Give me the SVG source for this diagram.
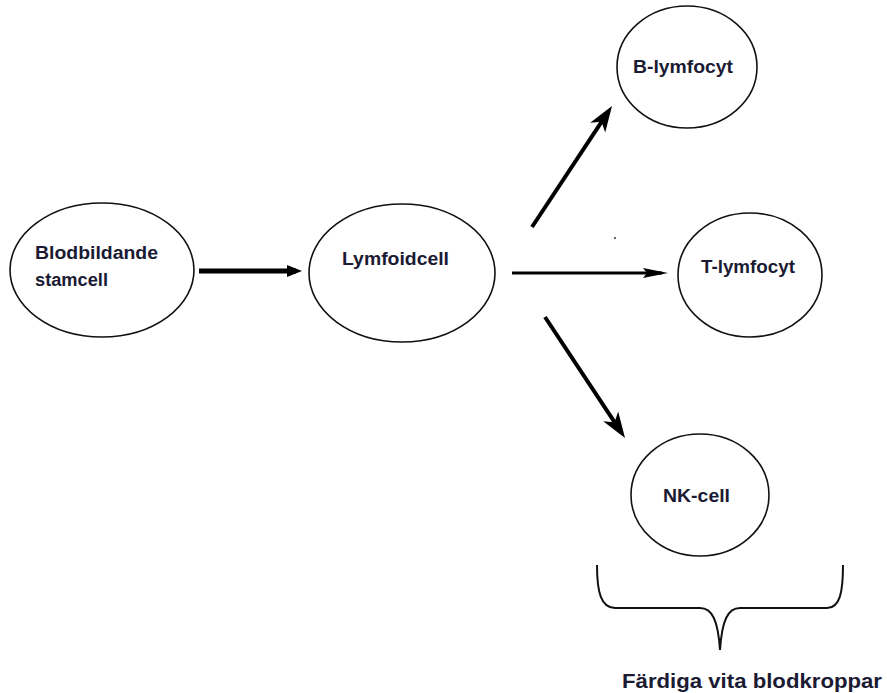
<svg xmlns="http://www.w3.org/2000/svg" width="887" height="693" viewBox="0 0 887 693">
  <style>
    .node ellipse { fill: #ffffff; stroke: #111111; stroke-width: 1.6; }
    .lbl { font-family: "Liberation Sans", Arial, sans-serif; font-weight: bold; font-size: 18px; fill: #1b1b33; }
    .big { font-size: 21px; }
    .conn { stroke: #000000; fill: none; stroke-linecap: butt; }
  </style>
  <defs>
    <marker id="headThick" viewBox="-18 -10 30 20" refX="0" refY="0" markerWidth="30" markerHeight="20" markerUnits="userSpaceOnUse" orient="auto">
      <path d="M10,0 L-16,-9 L-9,0 L-16,9 Z" fill="#000"/>
    </marker>
    <marker id="headThin" viewBox="-20 -8 30 16" refX="0" refY="0" markerWidth="30" markerHeight="16" markerUnits="userSpaceOnUse" orient="auto">
      <path d="M6,0 L-19,-5 L-15,0 L-19,5 Z" fill="#000"/>
    </marker>
    <marker id="headSmall" viewBox="-12 -8 20 16" refX="0" refY="0" markerWidth="20" markerHeight="16" markerUnits="userSpaceOnUse" orient="auto">
      <path d="M6,0 L-9,-6 L-9,6 Z" fill="#000"/>
    </marker>
  </defs>
  <rect width="887" height="693" fill="#ffffff"/>

  <g id="connectors">
    <line class="conn" x1="199" y1="271" x2="296" y2="271" stroke-width="5" marker-end="url(#headSmall)"/>
    <line class="conn" x1="532" y1="227" x2="606.5" y2="114.3" stroke-width="4" marker-end="url(#headThick)"/>
    <line class="conn" x1="512" y1="273" x2="662" y2="273" stroke-width="3" marker-end="url(#headThin)"/>
    <line class="conn" x1="545" y1="317" x2="619.5" y2="429.7" stroke-width="4" marker-end="url(#headThick)"/>
  </g>

  <circle cx="615" cy="238" r="1" fill="#333"/>

  <g id="node-blodbildande" class="node">
    <ellipse cx="102" cy="270" rx="92" ry="67"/>
    <text class="lbl" x="35" y="259" textLength="123" lengthAdjust="spacingAndGlyphs">Blodbildande</text>
    <text class="lbl" x="35" y="286" textLength="73" lengthAdjust="spacingAndGlyphs">stamcell</text>
  </g>

  <g id="node-lymfoidcell" class="node">
    <ellipse cx="402" cy="273" rx="93" ry="69"/>
    <text class="lbl" x="342" y="265" textLength="107" lengthAdjust="spacingAndGlyphs">Lymfoidcell</text>
  </g>

  <g id="node-b" class="node">
    <ellipse cx="687" cy="67" rx="70" ry="61"/>
    <text class="lbl" x="633" y="73" textLength="100" lengthAdjust="spacingAndGlyphs">B-lymfocyt</text>
  </g>

  <g id="node-t" class="node">
    <ellipse cx="750" cy="275" rx="72" ry="62"/>
    <text class="lbl" x="701" y="273" textLength="94" lengthAdjust="spacingAndGlyphs">T-lymfocyt</text>
  </g>

  <g id="node-nk" class="node">
    <ellipse cx="700" cy="495" rx="69" ry="61"/>
    <text class="lbl" x="663" y="502" textLength="67" lengthAdjust="spacingAndGlyphs">NK-cell</text>
  </g>

  <g id="brace">
    <path d="M597,565 C597,592 601,608 615,608 L700,608 C712,608 718,620 720,650 C722,620 728,608 740,608 L827,608 C840,608 843,592 843,565" fill="none" stroke="#111" stroke-width="2"/>
    <text class="lbl big" x="622" y="688" textLength="260" lengthAdjust="spacingAndGlyphs">Färdiga vita blodkroppar</text>
  </g>
</svg>
